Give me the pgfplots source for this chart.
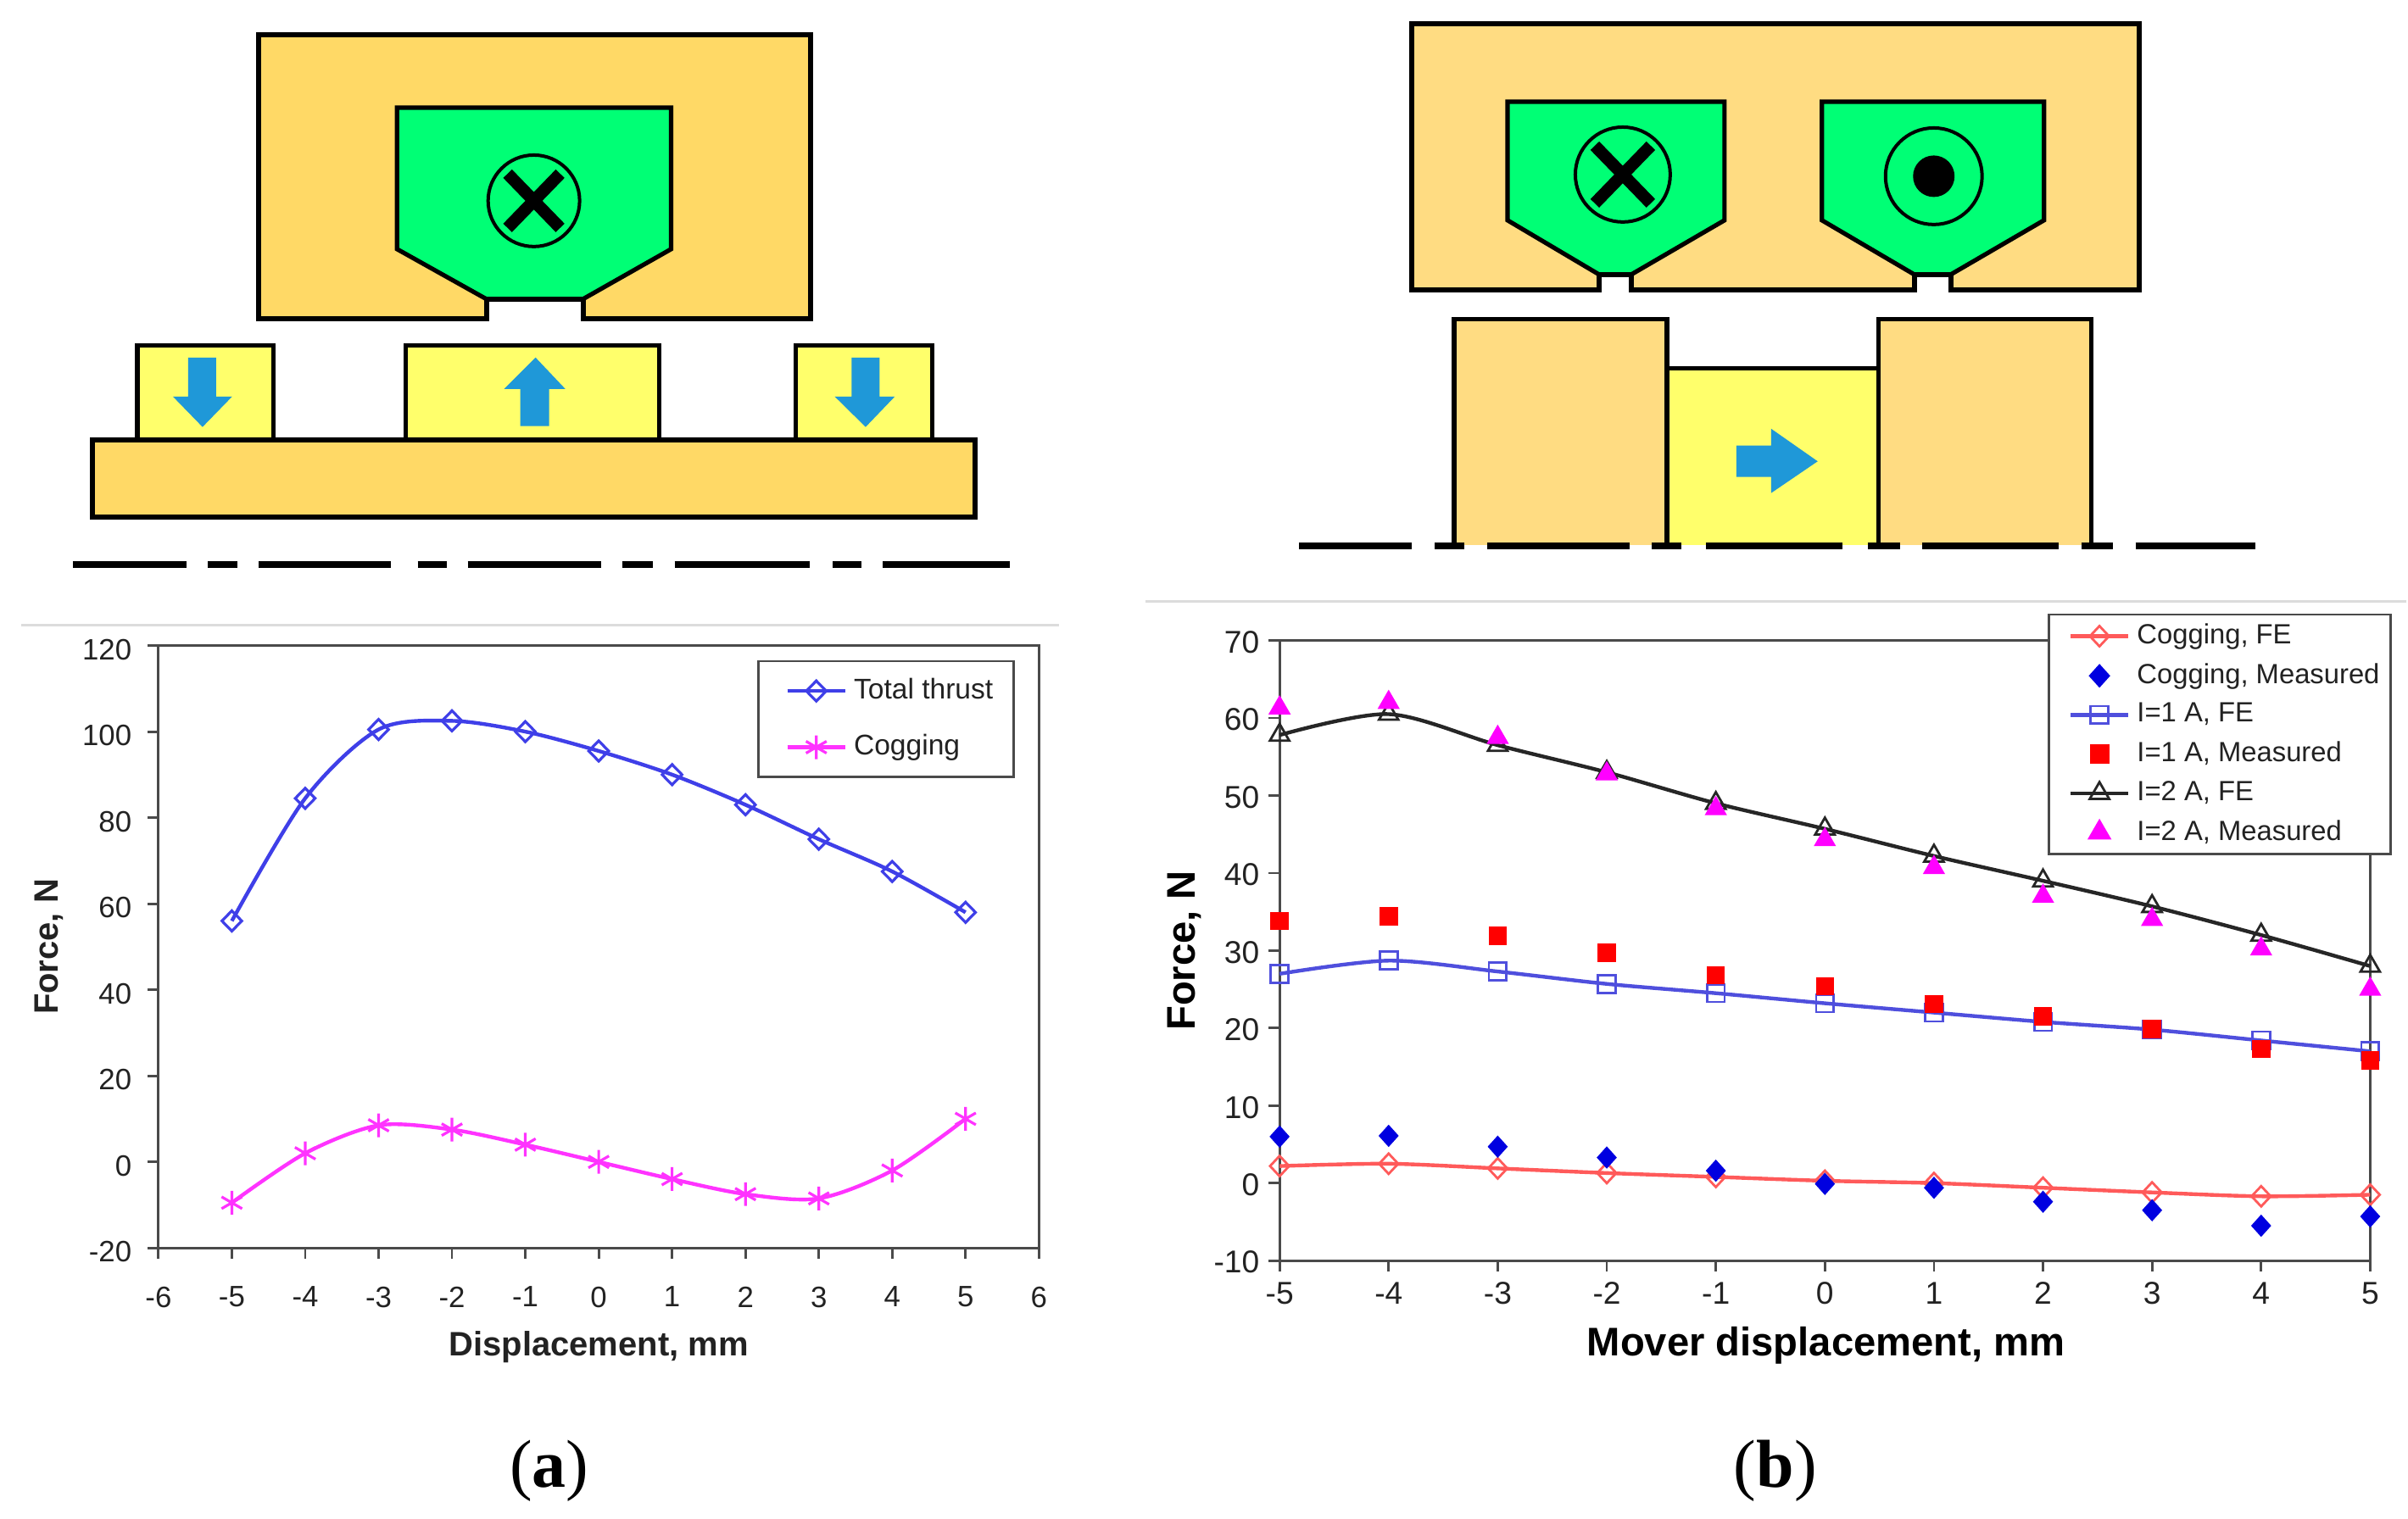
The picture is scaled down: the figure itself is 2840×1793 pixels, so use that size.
\documentclass[border=0pt]{standalone}
\usepackage{pgfplots}
\pgfplotsset{compat=1.18}
\usepackage{fontspec}
\setmainfont{Liberation Sans}
\newfontfamily\capfont{Liberation Serif}
\definecolor{coreA}{HTML}{FFD966}
\definecolor{coreB}{HTML}{FFDC82}
\definecolor{slotg}{HTML}{00FF75}
\definecolor{magy}{HTML}{FFFF6B}
\definecolor{arrowb}{HTML}{1F98D8}
\definecolor{sep}{HTML}{DCDCDC}
\definecolor{frame}{HTML}{4A4A4A}
\definecolor{lineblue}{HTML}{3F3FE8}
\definecolor{linemag}{HTML}{FF33FF}
\definecolor{linered}{HTML}{FF5A5A}
\definecolor{lineblueb}{HTML}{4F4FDD}
\definecolor{markblue}{HTML}{0000E0}
\definecolor{markmag}{HTML}{FF00FF}
\definecolor{textc}{HTML}{222222}
\pgfplotstableread{
x   total  cog
-5  56     -9.5
-4  84.5   2
-3  100.5  8.5
-2  102.5  7.5
-1  100    4
0   95.5   0
1   90     -4
2   83     -7.5
3   75     -8.5
4   67.5   -2
5   58     10
}\dataA
\pgfplotstableread{
x   cogfe cogm  ifeo  imo   ifet  imt
-5  2.2   6.0   27.0  33.8  57.8  61.3
-4  2.5   6.1   28.7  34.4  60.5  62.0
-3  1.9   4.7   27.3  31.9  56.5  57.5
-2  1.3   3.3   25.7  29.7  53.0  52.8
-1  0.8   1.6   24.5  26.8  49.0  48.3
0   0.3   -0.1  23.2  25.4  45.7  44.3
1   0.0   -0.6  22.0  23.1  42.2  40.7
2   -0.6  -2.4  20.8  21.5  39.0  37.0
3   -1.2  -3.5  19.8  19.9  35.7  34.0
4   -1.7  -5.5  18.4  17.3  32.0  30.2
5   -1.5  -4.3  17.0  15.8  28.0  25.0
}\dataB
\newcommand\la[1]{\makebox[37.1pt][l]{#1}}
\newcommand\lb[1]{\makebox[67pt][l]{#1}}
\pgfplotsset{
  common/.style={
    scale only axis, clip=false,
    axis line style={frame,line width=0.8pt},
    tick style={frame,line width=0.7pt},
    tick align=outside, major tick length=3.2pt,
    xtick pos=bottom, ytick pos=left,
    /pgf/number format/assume math mode=true,
    legend cell align=left,
  },
}
\begin{document}
\begin{tikzpicture}
\begin{scope}[x=0.25pt,y=-0.25pt,line join=miter]
\path (0,0) rectangle (2840,1793);
\coordinate (A) at (187,1473);
\coordinate (B) at (1510,1488);
% separators
\draw[sep,line width=0.8pt] (25,738)--(1250,738);
\draw[sep,line width=0.8pt] (1352,710)--(2840,710);
% --- schematic a
\draw[fill=coreA,line width=1.5pt] (305,41)--(957,41)--(957,376)--(688,376)--(688,353)--(574,353)--(574,376)--(305,376)--cycle;
\draw[fill=slotg,line width=1.3pt] (468.5,127)--(792,127)--(792,294)--(688,353)--(574,353)--(468.5,294)--cycle;
\draw[line width=1pt] (630,237) circle (54);
\draw[line width=3.6pt] (599,205)--(661,269) (661,205)--(599,269);
\draw[fill=magy,line width=1.3pt] (162,408) rectangle (323,519);
\draw[fill=magy,line width=1.3pt] (479,408) rectangle (778,519);
\draw[fill=magy,line width=1.3pt] (939,408) rectangle (1100,519);
\draw[fill=coreA,line width=1.5pt] (109,519) rectangle (1151,610);
\fill[arrowb] (222,422)--(255,422)--(255,468)--(274,468)--(239,504)--(204,468)--(222,468)--cycle;
\fill[arrowb] (614,503)--(648,503)--(648,459)--(667,459)--(632,422)--(595,459)--(614,459)--cycle;
\fill[arrowb] (1005,422)--(1038,422)--(1038,468)--(1056,468)--(1021.5,504)--(985,468)--(1005,468)--cycle;
\foreach \a/\b in {86/220,245/280,305/461,493/527,552/709,734/770,796/956,983/1017,1042/1192}
  \draw[line width=2pt] (\a,666)--(\b,666);
% --- schematic b
\draw[fill=coreB,line width=1.5pt] (1666,27.5)--(2524,27.5)--(2524,342.5)--(2302,342.5)--(2302,324)--(2259,324)--(2259,342.5)--(1925,342.5)--(1925,324)--(1887,324)--(1887,342.5)--(1666,342.5)--cycle;
\draw[fill=slotg,line width=1.3pt] (1779,120)--(2035,120)--(2035,260)--(1925,324)--(1887,324)--(1779,260)--cycle;
\draw[fill=slotg,line width=1.3pt] (2150,120)--(2412,120)--(2412,260)--(2302,324)--(2259,324)--(2150,260)--cycle;
\draw[line width=1pt] (1915,206) circle (56);
\draw[line width=3.6pt] (1882,172)--(1948,240) (1948,172)--(1882,240);
\draw[line width=1pt] (2282,208) circle (57);
\fill (2282,208) circle (24.5);
\draw[fill=magy,line width=1.2pt] (1967,643)--(1967,435)--(2217,435)--(2217,643);
\draw[fill=coreB,line width=1.3pt] (1716,643)--(1716,377)--(1967,377)--(1967,643);
\draw[fill=coreB,line width=1.3pt] (2217,643)--(2217,377)--(2468,377)--(2468,643);
\fill[arrowb] (2049,526)--(2090,526)--(2090,506)--(2145,544.5)--(2090,582)--(2090,563)--(2049,563)--cycle;
\foreach \a/\b in {1533/1666,1693/1728,1755/1923,1949/1984,2013/2174,2204/2242,2268/2429,2456/2493,2520/2661}
  \draw[line width=2pt] (\a,644)--(\b,644);
% captions
\node[font=\capfont\fontsize{20}{24}\selectfont,text=black] at (648,1736) {(\textbf{a})};
\node[font=\capfont\fontsize{20}{24}\selectfont,text=black] at (2095,1736) {(\textbf{b})};
\end{scope}
% --- chart a
\begin{axis}[common, at={(A)}, anchor=south west,
  width=259.75pt, height=177.75pt,
  xmin=-6, xmax=6, ymin=-20, ymax=120,
  xtick={-6,-5,...,6}, ytick={-20,0,...,120},
  tick label style={font=\fontsize{8.7}{10}\selectfont,text=textc},
  xticklabel style={yshift=-4.7pt},
  yticklabel style={xshift=-1.2pt,yshift=-1.2pt},
  xlabel={\textbf{Displacement, mm}}, ylabel={\textbf{Force, N}},
  label style={font=\fontsize{10}{12}\selectfont,text=textc},
  xlabel style={at={(axis description cs:0.5,-0.165)},anchor=center},
  ylabel style={at={(axis description cs:-0.124,0.5)},anchor=center},
  legend style={at={(0.680,0.976)},anchor=north west,draw=frame,line width=0.7pt,
    font=\fontsize{8.4}{10}\selectfont,text=textc,row sep=5pt,inner xsep=8pt,inner ysep=3pt},
]
\addplot[lineblue,line width=1.1pt,smooth,mark=diamond,mark size=3pt,mark options={xscale=1.3,solid,line width=0.8pt}] table[x=x,y=total]{\dataA};
\addlegendentry{\la{Total thrust}}
\addplot[linemag,line width=1.1pt,smooth,mark=asterisk,mark size=3.5pt,mark options={solid,line width=0.8pt}] table[x=x,y=cog]{\dataA};
\addlegendentry{\la{Cogging}}
\end{axis}
% --- chart b
\begin{axis}[common, at={(B)}, anchor=south west,
  width=321.75pt, height=183pt,
  xmin=-5, xmax=5, ymin=-10, ymax=70,
  xtick={-5,-4,...,5}, ytick={-10,0,...,70},
  tick label style={font=\fontsize{9.3}{11}\selectfont,text=textc},
  xticklabel style={yshift=0.3pt},
  yticklabel style={xshift=0.75pt,yshift=-0.5pt},
  xlabel={\textbf{Mover displacement, mm}}, ylabel={\textbf{Force, N}},
  label style={font=\fontsize{11.8}{14}\selectfont,text=black},
  xlabel style={at={(axis description cs:0.501,-0.137)},anchor=center},
  ylabel style={at={(axis description cs:-0.087,0.5)},anchor=center},
  legend style={at={(0.7044,1.0437)},anchor=north west,draw=frame,line width=0.7pt,
    font=\fontsize{8.2}{10}\selectfont,text=textc,row sep=0.25pt,inner xsep=5.8pt,inner ysep=0.65pt},
]
\addplot[linered,line width=1.1pt,smooth,mark=diamond,mark size=3pt,mark options={xscale=1.25,solid,line width=0.7pt}] table[x=x,y=cogfe]{\dataB};
\addlegendentry{\lb{Cogging, FE}}
\addplot[only marks,markblue,mark=diamond*,mark size=3pt,mark options={xscale=1.2}] table[x=x,y=cogm]{\dataB};
\addlegendentry{\lb{Cogging, Measured}}
\addplot[lineblueb,line width=1.1pt,smooth,mark=square,mark size=2.6pt,mark options={solid,line width=0.7pt}] table[x=x,y=ifeo]{\dataB};
\addlegendentry{\lb{I=1 A, FE}}
\addplot[only marks,red,mark=square*,mark size=2.5pt] table[x=x,y=imo]{\dataB};
\addlegendentry{\lb{I=1 A, Measured}}
\addplot[black!85,line width=1.1pt,smooth,mark=triangle,mark size=3.3pt,mark options={solid,line width=0.7pt}] table[x=x,y=ifet]{\dataB};
\addlegendentry{\lb{I=2 A, FE}}
\addplot[only marks,markmag,mark=triangle*,mark size=3.4pt] table[x=x,y=imt]{\dataB};
\addlegendentry{\lb{I=2 A, Measured}}
\end{axis}
\end{tikzpicture}
\end{document}
